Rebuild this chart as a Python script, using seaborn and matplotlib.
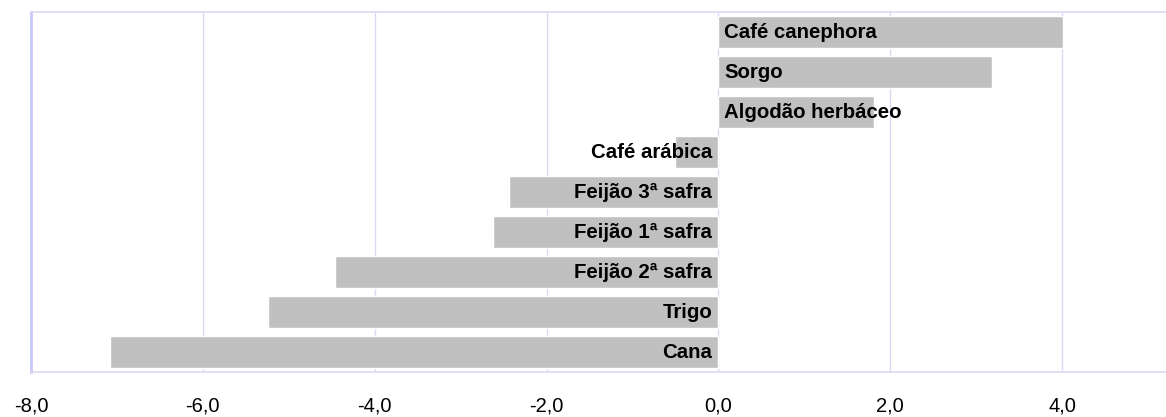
import matplotlib
matplotlib.use("Agg")
import matplotlib.pyplot as plt
import seaborn as sns
import pandas as pd

categories = ["Café canephora", "Sorgo", "Algodão herbáceo", "Café arábica",
              "Feijão 3ª safra", "Feijão 1ª safra", "Feijão 2ª safra", "Trigo", "Cana"]
values = [4.01, 3.19, 1.81, -0.51, -2.44, -2.62, -4.46, -5.24, -7.08]
xticks = [-8, -6, -4, -2, 0, 2, 4]
xtick_labels = ["-8,0", "-6,0", "-4,0", "-2,0", "0,0", "2,0", "4,0"]

sns.set_style("white")
plt.rcParams["font.family"] = ["Liberation Sans", "DejaVu Sans"]
plt.rcParams["text.color"] = "black"
plt.rcParams["xtick.color"] = "black"

df = pd.DataFrame({"cat": categories, "val": values})

fig = plt.figure(figsize=(11.66, 4.17), dpi=100)
ax = fig.add_axes([31 / 1166, 1 - 372 / 417, 1 - 31 / 1166, (372 - 12) / 417])

sns.barplot(data=df, x="val", y="cat", order=categories, orient="h",
            color="#C0C0C0", saturation=1, width=0.8, ax=ax, zorder=2)

grid_c = "#D9D9F5"
for t in xticks:
    ax.axvline(t, color=grid_c, lw=1.0, zorder=1)

ax.set_xlim(-8, 5.21)
ax.set_ylim(len(categories) - 0.5, -0.5)

for i, (c, v) in enumerate(zip(categories, values)):
    if v >= 0:
        ax.text(0.07, i, c, ha="left", va="center", fontsize=14.7,
                fontweight="bold", color="black", zorder=3)
    else:
        ax.text(-0.07, i, c, ha="right", va="center", fontsize=14.7,
                fontweight="bold", color="black", zorder=3)

ax.set_xticks(xticks)
ax.set_xticklabels(xtick_labels, fontsize=14.5, color="black")
ax.tick_params(axis="x", length=0, pad=18)
ax.set_yticks([])
ax.set_xlabel("")
ax.set_ylabel("")

for s in ["top", "bottom", "left"]:
    ax.spines[s].set_color(grid_c)
    ax.spines[s].set_linewidth(1.2)
ax.spines["left"].set_color("#C8C8F8")
ax.spines["left"].set_linewidth(2)
ax.spines["right"].set_visible(False)

fig.savefig("out.png", dpi=100)
